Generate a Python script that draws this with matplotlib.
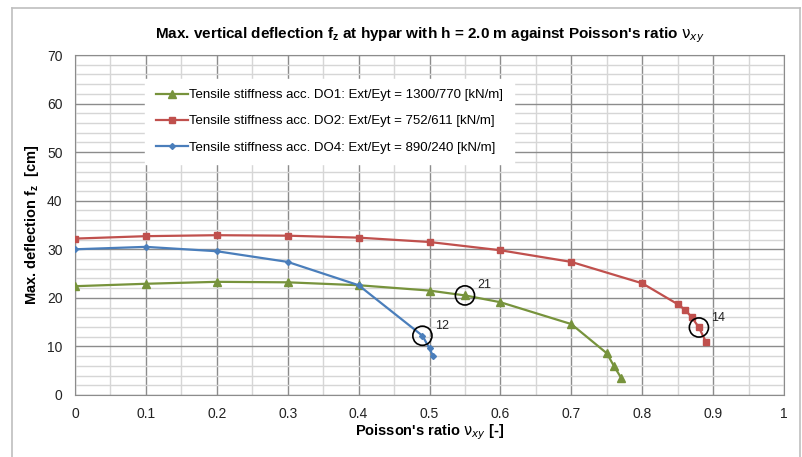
import matplotlib.pyplot as plt
from matplotlib.lines import Line2D
from matplotlib.ticker import MultipleLocator

plt.rcParams['font.family'] = ['Liberation Sans Narrow', 'Liberation Sans', 'DejaVu Sans']

# Data
do1_x = [0, 0.1, 0.2, 0.3, 0.4, 0.5, 0.55, 0.6, 0.7, 0.75, 0.76, 0.77]
do1_y = [22.4, 22.9, 23.3, 23.2, 22.6, 21.5, 20.5, 19.1, 14.6, 8.6, 6.0, 3.6]

do2_x = [0, 0.1, 0.2, 0.3, 0.4, 0.5, 0.6, 0.7, 0.8, 0.85, 0.86, 0.87, 0.88, 0.89]
do2_y = [32.2, 32.7, 32.9, 32.8, 32.4, 31.5, 29.8, 27.4, 23.0, 18.7, 17.6, 16.0, 13.9, 10.9]

do4_x = [0, 0.1, 0.2, 0.3, 0.4, 0.49, 0.50, 0.505]
do4_y = [30.0, 30.5, 29.6, 27.4, 22.6, 12.2, 9.6, 8.0]

labels = ["Tensile stiffness acc. DO1: Ext/Eyt = 1300/770 [kN/m]",
          "Tensile stiffness acc. DO2: Ext/Eyt = 752/611 [kN/m]",
          "Tensile stiffness acc. DO4: Ext/Eyt = 890/240 [kN/m]"]

# circled points: (x, y, label)
marked_x = [0.49, 0.55, 0.88]
marked_y = [12.2, 20.5, 13.9]
marked_txt = ["12", "21", "14"]

green = '#77933c'
red = '#c0504d'
blue = '#4a7ebb'

fig = plt.figure(figsize=(8.02, 4.57), dpi=100)
ax = fig.add_axes([75 / 802, 1 - 395 / 457, 709 / 802, 340 / 457])

# outer chart frame
for xs, ys in [([12 / 802, 12 / 802], [0, 1 - 8 / 457]),
               ([12 / 802, 800 / 802], [1 - 8 / 457, 1 - 8 / 457]),
               ([800 / 802, 800 / 802], [0, 1 - 8 / 457])]:
    fig.add_artist(Line2D(xs, ys, color='#bfbfbf', lw=1.2, transform=fig.transFigure))

ax.plot(do1_x, do1_y, color=green, lw=1.6, marker='^', ms=6, label=labels[0], zorder=3)
ax.plot(do2_x, do2_y, color=red, lw=1.6, marker='s', ms=5, label=labels[1], zorder=3)
ax.plot(do4_x, do4_y, color=blue, lw=1.6, marker='D', ms=3, label=labels[2], zorder=3)

ax.scatter(marked_x, marked_y, s=190, facecolors='none', edgecolors='black', lw=1.2, zorder=4)
for x, y, t in zip(marked_x, marked_y, marked_txt):
    ax.annotate(t, (x, y), xytext=(9, 5), textcoords='offset points', fontsize=9, color='#222222')

ax.set_xlim(0, 1)
ax.set_ylim(0, 70)
ax.xaxis.set_major_locator(MultipleLocator(0.1))
ax.xaxis.set_minor_locator(MultipleLocator(0.05))
ax.yaxis.set_major_locator(MultipleLocator(10))
ax.yaxis.set_minor_locator(MultipleLocator(2))
ax.grid(which='major', color='#8c8c8c', lw=1.0)
ax.grid(which='minor', color='#d6d6d6', lw=1.0)
ax.set_axisbelow(True)
for s in ax.spines.values():
    s.set_color('#8c8c8c')
ax.tick_params(which='both', length=0, labelsize=10, colors='#222222', pad=9)
ax.set_xticks([i / 10 for i in range(11)])
ax.set_xticklabels(['0', '0.1', '0.2', '0.3', '0.4', '0.5', '0.6', '0.7', '0.8', '0.9', '1'])

ax.set_title(r"Max. vertical deflection f$_\mathregular{z}$ at hypar with h = 2.0 m against Poisson's ratio $\mathrm{\nu}_{xy}$",
             fontsize=11, fontweight='bold', pad=12)
ax.set_xlabel(r"Poisson's ratio $\mathrm{\nu}_{xy}$ [-]", fontsize=10.5, fontweight='bold', labelpad=1)
ax.set_ylabel(r"Max. deflection f$_\mathregular{z}$  [cm]", fontsize=10.5, fontweight='bold', labelpad=4)

leg = ax.legend(loc='upper left', bbox_to_anchor=(0.09, 0.95), fontsize=9.5, frameon=True,
                fancybox=False, edgecolor='white', framealpha=1, labelspacing=1.05,
                handlelength=2.4, handletextpad=0.1, borderpad=0.8)

plt.savefig('out.png', dpi=100)
